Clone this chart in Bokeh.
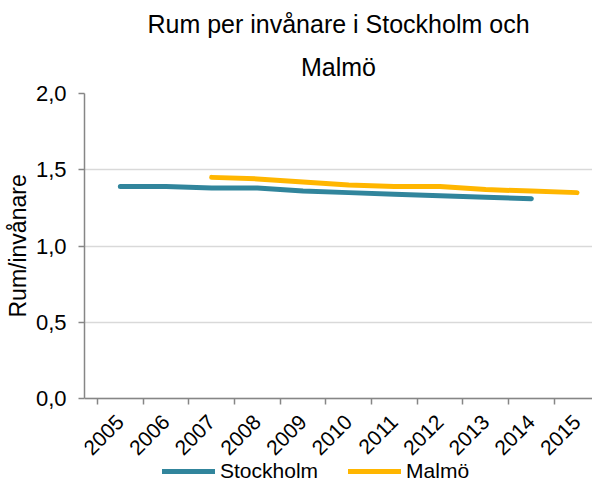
import math
from bokeh.plotting import figure
from bokeh.models import (Range1d, FixedTicker, CustomJSTickFormatter, Legend,
                          LegendItem, Title)
from bokeh.embed import file_html
from bokeh.resources import INLINE

# Rooms per inhabitant, Stockholm and Malmö
years = ["2005", "2006", "2007", "2008", "2009", "2010",
         "2011", "2012", "2013", "2014", "2015"]
stockholm_years = years[0:10]
stockholm_values = [1.39, 1.39, 1.38, 1.38, 1.36, 1.35, 1.34, 1.33, 1.32, 1.31]
malmo_years = years[2:11]
malmo_values = [1.45, 1.44, 1.42, 1.40, 1.39, 1.39, 1.37, 1.36, 1.35]
y_ticks = [0.0, 0.5, 1.0, 1.5, 2.0]
title_lines = ["Rum per invånare i Stockholm och", "Malmö"]
y_label = "Rum/invånare"

FONT = "Liberation Sans"
TEAL = "#31859C"
GOLD = "#FFB600"
AXIS = "#868686"
GRID = "#D9D9D9"

# geometry: the value axis (0..2) spans PLOT_PX pixels; the frame continues
# below it to hold the year labels and the legend, and a little to the left
# so the first rotated year label has room
PLOT_PX = 305
EXTRA_PX = 83
Y_MAX = 2.0
UNIT = Y_MAX / PLOT_PX
BAND_PX = 45.67
LEFT_PAD_PX = 13
FRAME_LEFT = 84
FRAME_W = 592 - FRAME_LEFT
X_START = -LEFT_PAD_PX / BAND_PX
X_END = X_START + FRAME_W / BAND_PX


def centers(labels):
    # each year occupies one unit band; marks sit in the middle of the band
    return [years.index(y) + 0.5 for y in labels]


p = figure(frame_width=FRAME_W, frame_height=PLOT_PX + EXTRA_PX,
           output_backend="svg", toolbar_location=None,
           x_range=Range1d(X_START, X_END),
           y_range=Range1d(-EXTRA_PX * UNIT, Y_MAX),
           min_border_left=FRAME_LEFT, min_border_right=0,
           min_border_top=93, min_border_bottom=0)
p.outline_line_color = None
p.background_fill_color = "white"
p.border_fill_color = "white"


def style_title(t):
    t.align = "center"
    t.text_font = FONT
    t.text_font_size = "25px"
    t.text_font_style = "normal"
    t.text_color = "black"


# the built-in title holds the first line; the second line is stacked
# between it and the frame
p.title.text = title_lines[0]
style_title(p.title)
p.title.standoff = 0
second = Title(text=title_lines[1])
style_title(second)
second.standoff = 26
p.add_layout(second, "above")

# gridlines only across the value span
p.xgrid.grid_line_color = None
p.ygrid.ticker = FixedTicker(ticks=y_ticks)
p.ygrid.grid_line_color = GRID
p.ygrid.grid_line_width = 1.5

r_sth = p.line(centers(stockholm_years), stockholm_values, line_width=5,
               line_color=TEAL, line_cap="round", line_join="round")
r_mal = p.line(centers(malmo_years), malmo_values, line_width=5,
               line_color=GOLD, line_cap="round", line_join="round")

# category axis pinned at zero: ticks on band edges, year labels at centres
xa = p.xaxis[0]
xa.fixed_location = 0
xa.ticker = FixedTicker(ticks=[i + 0.5 for i in range(len(years))],
                        minor_ticks=list(range(len(years) + 1)))
xa.formatter = CustomJSTickFormatter(args=dict(years=years),
                                     code="return years[Math.floor(tick)];")
xa.major_tick_line_color = None
xa.minor_tick_line_color = AXIS
xa.minor_tick_line_width = 1.5
xa.minor_tick_in = 0
xa.minor_tick_out = 6
xa.axis_line_color = AXIS
xa.axis_line_width = 1.5
xa.major_label_orientation = math.pi / 4
xa.major_label_standoff = 14
xa.major_label_text_font = FONT
xa.major_label_text_font_size = "21px"
xa.major_label_text_color = "black"

# value axis
ya = p.yaxis[0]
ya.bounds = (0, Y_MAX)
ya.ticker = FixedTicker(ticks=y_ticks, minor_ticks=[])
ya.formatter = CustomJSTickFormatter(
    code="return tick.toFixed(1).replace('.', ',');")
ya.major_tick_line_color = AXIS
ya.major_tick_line_width = 1.5
ya.major_tick_in = 0
ya.major_tick_out = 6
ya.axis_line_color = AXIS
ya.axis_line_width = 1.5
ya.major_label_text_font = FONT
ya.major_label_text_font_size = "22px"
ya.major_label_text_color = "black"
ya.major_label_standoff = 12

# axis title, placed along the value span rather than the full frame
ytitle = Title(text=y_label, align="left", offset=164, text_font=FONT,
               text_font_size="23px", text_font_style="normal",
               text_color="black", standoff=4)
p.add_layout(ytitle, "left")

legend = Legend(items=[LegendItem(label="Stockholm", renderers=[r_sth]),
                       LegendItem(label="Malmö", renderers=[r_mal])],
                orientation="horizontal", location=(162 - FRAME_LEFT, -2),
                glyph_width=53, glyph_height=14, label_height=14,
                label_standoff=5, spacing=30,
                padding=0, margin=0, border_line_color=None,
                background_fill_alpha=0, label_text_font=FONT,
                label_text_font_size="21px", label_text_color="black")
p.add_layout(legend, "center")

open("out.html", "w").write(file_html(p, INLINE))
